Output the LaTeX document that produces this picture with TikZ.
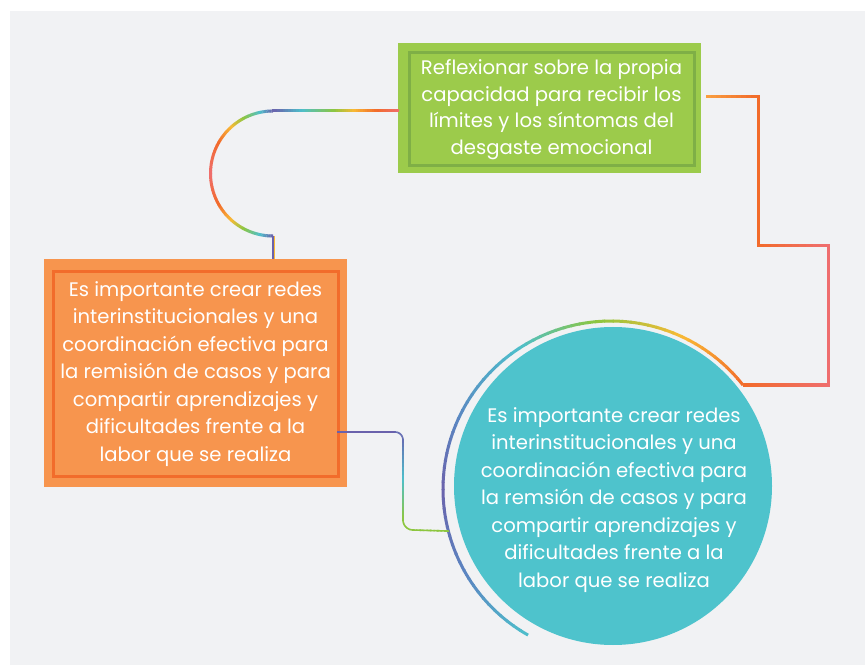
\documentclass[tikz,border=0pt]{standalone}
\usepackage{fontspec}
\setmainfont{Poppins}
\usetikzlibrary{calc}
\definecolor{bg}{HTML}{F1F2F4}
\definecolor{gfill}{HTML}{9CCB4B}
\definecolor{gborder}{HTML}{7FAF46}
\definecolor{ofill}{HTML}{F7954E}
\definecolor{oborder}{HTML}{F26C2B}
\definecolor{tfill}{HTML}{4EC3CC}
\definecolor{cP}{HTML}{6A62AC}
\definecolor{cB}{HTML}{5A87C2}
\definecolor{cT}{HTML}{4EBFCB}
\definecolor{cG}{HTML}{8DC63F}
\definecolor{cY}{HTML}{F9B935}
\definecolor{cO}{HTML}{F26B2A}
\definecolor{cR}{HTML}{EF6E6E}
\definecolor{cL}{HTML}{F9A040}
% gradient straight line: from, to, colour1, colour2, style
\newcommand\gradline[5]{%
  \foreach \k in {0,...,9}{%
    \pgfmathsetmacro\gTa{\k/10}%
    \pgfmathsetmacro\gTb{(\k+1)/10}%
    \pgfmathsetmacro\gPc{100-(\k+0.5)*10}%
    \draw[#5, line cap=rect, draw=#3!\gPc!#4] ($(#1)!\gTa!(#2)$) -- ($(#1)!\gTb!(#2)$);
  }}
% gradient arc: centre, radius, angle1, angle2, colour1, colour2, style
\newcommand\gradarc[7]{%
  \foreach \k in {0,...,9}{%
    \pgfmathsetmacro\gAa{#3+(#4-(#3))*\k/10}%
    \pgfmathsetmacro\gAb{#3+(#4-(#3))*(\k+1.15)/10}%
    \pgfmathsetmacro\gPc{100-(\k+0.5)*10}%
    \draw[#7, draw=#5!\gPc!#6] ($(#1)+(\gAa:#2)$) arc[start angle=\gAa, end angle=\gAb, radius=#2];
  }}
\begin{document}
\begin{tikzpicture}[x=1pt,y=1pt,
  txt/.style={text=white, align=center, font=\fontsize{19.6}{27.5}\selectfont},
  conn/.style={line width=3pt},
  thinconn/.style={line width=1.6pt}]
\useasboundingbox (0,0) rectangle (865,665);
\fill[white] (0,0) rectangle (865,665);
\fill[bg] (10,0) rectangle (865,654);

% boxes
\node[fill=gfill, minimum width=303, minimum height=130, inner sep=0] (gbox) at (549.5,557) {};
\node[draw=gborder, line width=3pt, minimum width=285, minimum height=113, inner sep=0, txt,
  font=\fontsize{19.6}{26.5}\selectfont] (gin) at (551.5,555.5)
  {Reflexionar sobre la propia\\capacidad para recibir los\\límites y los síntomas del\\desgaste emocional};
\node[fill=ofill, minimum width=303, minimum height=228, inner sep=0] (obox) at (195.5,292) {};
\node[draw=oborder, line width=3pt, minimum width=285, minimum height=204, inner sep=0, txt] (oin) at (195.5,291)
  {Es importante crear redes\\interinstitucionales y una\\coordinación efectiva para\\la remisión de casos y para\\compartir aprendizajes y\\dificultades frente a la\\labor que se realiza};
\node[circle, fill=tfill, minimum size=318, inner sep=0] (circ) at (613,179) {};
\node[txt] (ctext) at ($(circ)+(1,-14)$)
  {Es importante crear redes\\interinstitucionales y una\\coordinación efectiva para\\la remsión de casos y para\\compartir aprendizajes y\\dificultades frente a la\\labor que se realiza};

% left curved connector (green box -> orange box)
\coordinate (L1) at ($(gbox.west)+(0,-3)$);
\coordinate (h1) at (375,554);
\coordinate (h2) at (352,554);
\coordinate (h3) at (333,554);
\coordinate (h4) at (300,554);
\coordinate (L2) at (273,554);
\coordinate (LC) at (273,491.5);
\coordinate (L3) at (273,429);
\coordinate (L4) at (obox.north -| L3);
\gradline{L1}{h1}{cR}{cO}{conn}
\gradline{h1}{h2}{cO}{cY}{conn}
\gradline{h2}{h3}{cY}{cG}{conn}
\gradline{h3}{h4}{cG}{cT}{conn}
\gradline{h4}{L2}{cT}{cP}{conn}
\gradarc{LC}{62.5}{90}{102}{cP}{cT}{conn}
\gradarc{LC}{62.5}{102}{118}{cT}{cG}{conn}
\gradarc{LC}{62.5}{118}{132}{cG}{cY}{conn}
\gradarc{LC}{62.5}{132}{150}{cY}{cO}{conn}
\gradarc{LC}{62.5}{150}{180}{cO}{cR}{conn}
\gradarc{LC}{62.5}{180}{210}{cR}{cO}{conn}
\gradarc{LC}{62.5}{210}{228}{cO}{cY}{conn}
\gradarc{LC}{62.5}{228}{242}{cY}{cG}{conn}
\gradarc{LC}{62.5}{242}{258}{cG}{cT}{conn}
\gradarc{LC}{62.5}{258}{270}{cT}{cP}{conn}
\draw[line width=2.2pt, cP] ($(L3)+(-0.4,0)$) -- ($(L4)+(-0.4,0)$);
\draw[line width=1pt, cY] ($(L3)+(1.5,0)$) -- ($(L4)+(1.5,0)$);

% right connector (green box -> circle)
\coordinate (CA) at (611,176);
\coordinate (R0) at ($(gbox.east)+(6,11)$);
\coordinate (R1) at (758,568);
\coordinate (R2) at (758,419);
\coordinate (R3) at (828,419);
\coordinate (R5) at ($(CA)+(38.2:168)$);
\coordinate (R4) at (R3 |- R5);
\gradline{R0}{R1}{cL}{cO}{conn}
\gradline{R1}{R2}{cO}{cO}{conn}
\gradline{R2}{R3}{cO}{cR}{conn}
\gradline{R3}{R4}{cR}{cR}{conn}
\shade[left color=cO, right color=cR] ($(R5)+(0,-1.5)$) rectangle ($(R4)+(1.5,1.5)$);
% arc around the circle
\gradarc{CA}{168}{38.2}{65}{cO}{cY}{conn}
\gradarc{CA}{168}{65}{95}{cY}{cG}{conn}
\gradarc{CA}{168}{95}{123}{cG}{cT}{conn}
\gradarc{CA}{168}{123}{155}{cT}{cB}{conn}
\gradarc{CA}{168}{155}{180}{cB}{cP}{conn}
\gradarc{CA}{168}{180}{212}{cP}{cB}{conn}
\gradarc{CA}{168}{212}{240}{cB}{cT}{conn}

% bottom connector (orange box -> circle)
\coordinate (B0) at ($(obox.east)+(-9,-59)$);
\coordinate (B1) at (395,233);
\coordinate (BC1) at (395,225);
\coordinate (B2) at (403,225);
\coordinate (Bm) at (403,185);
\coordinate (B3) at (403,145);
\coordinate (BC2) at (413,145);
\coordinate (B4) at (413,135);
\coordinate (B5) at ($(CA)+(194.5:168)$);
\gradline{B0}{B1}{cP}{cP}{thinconn}
\gradarc{BC1}{8}{90}{0}{cP}{cP!70!cB}{thinconn}
\gradline{B2}{Bm}{cP!70!cB}{cT}{thinconn}
\gradline{Bm}{B3}{cT}{cG}{thinconn}
\gradarc{BC2}{10}{180}{270}{cG}{cG}{thinconn}
\gradline{B4}{B5}{cG}{cG}{thinconn}
\end{tikzpicture}
\end{document}
